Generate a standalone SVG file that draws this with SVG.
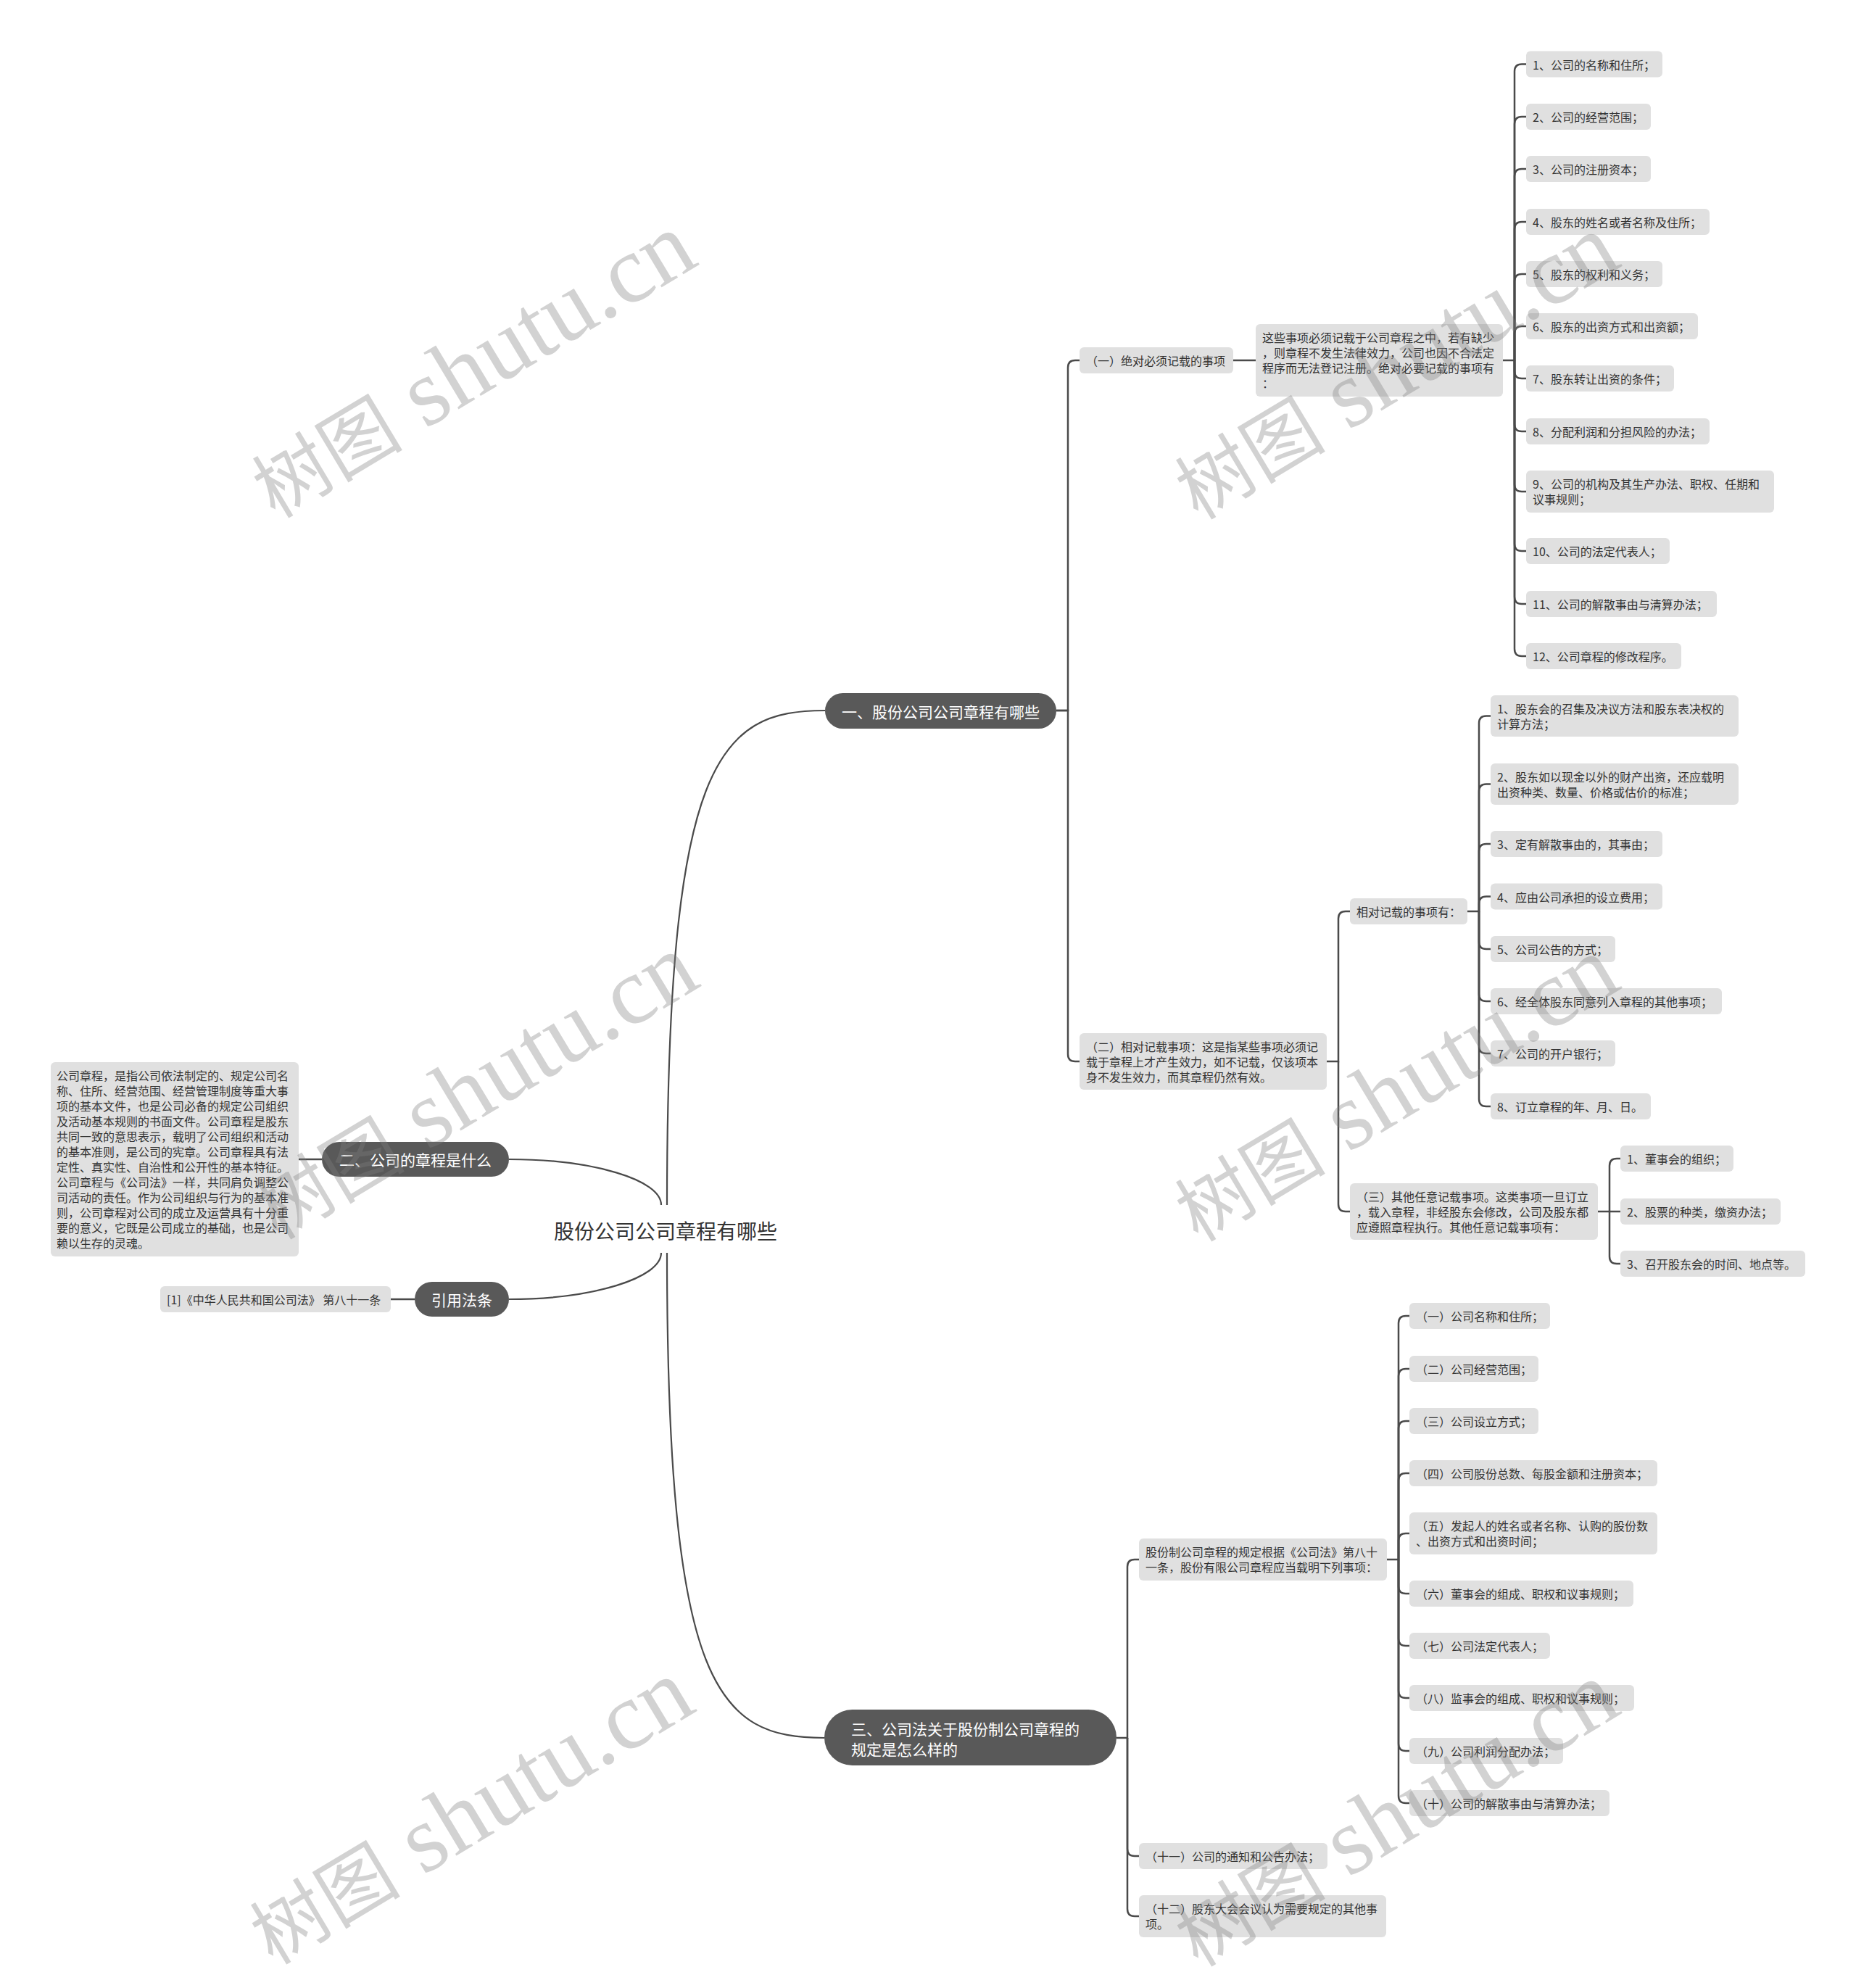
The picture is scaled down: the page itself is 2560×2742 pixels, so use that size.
<svg xmlns="http://www.w3.org/2000/svg" width="2560" height="2742" viewBox="0 0 2560 2742">
<style>
.bg{fill:#ffffff}
.box{fill:#e0e0e0}
.t{font-family:'Noto Sans CJK SC','Microsoft YaHei',sans-serif;font-size:16px;fill:#333333;dominant-baseline:central}
.br{fill:#595959}
.bt{font-family:'Noto Sans CJK SC','Microsoft YaHei',sans-serif;font-size:21px;fill:#ffffff;dominant-baseline:central}
.rt{font-family:'Noto Sans CJK SC','Microsoft YaHei',sans-serif;font-size:28px;fill:#333333;dominant-baseline:central}
.ln{fill:none;stroke:#4a4a4a;stroke-width:2.5}
.rl{fill:none;stroke:#4a4a4a;stroke-width:2.2}
.wm{font-family:'Liberation Serif','Noto Sans CJK SC',serif;font-size:104px;fill:#808080;opacity:0.35}
.wl{font-size:132px}
</style>
<rect class="bg" x="0" y="0" width="2560" height="2742"/>

<g id="connectors">
<path class="rl" d="M912 1662C912 1627 817 1599 702 1599"/>
<path class="rl" d="M912 1728C912 1763 817 1792 702 1792"/>
<path class="rl" d="M920 1662C920 1050 990 980 1138 980"/>
<path class="rl" d="M920 1728C920 2330 990 2397 1137 2397"/>
<path class="ln" d="M412 1599H444"/>
<path class="ln" d="M539 1792H572"/>
<path class="ln" d="M1457 980H1473V507Q1473 497 1483 497H1489"/>
<path class="ln" d="M1457 980H1473V1454Q1473 1464 1483 1464H1489"/>
<path class="ln" d="M1701 497H1732"/>
<path class="ln" d="M2073 497H2089V98.5Q2089 88.5 2099 88.5H2105"/>
<path class="ln" d="M2089 497V171Q2089 161 2099 161H2105"/>
<path class="ln" d="M2089 497V243Q2089 233 2099 233H2105"/>
<path class="ln" d="M2089 497V316Q2089 306 2099 306H2105"/>
<path class="ln" d="M2089 497V388Q2089 378 2099 378H2105"/>
<path class="ln" d="M2089 497V460Q2089 450 2099 450H2105"/>
<path class="ln" d="M2089 497V512Q2089 522 2099 522H2105"/>
<path class="ln" d="M2089 497V585Q2089 595 2099 595H2105"/>
<path class="ln" d="M2089 497V668Q2089 678 2099 678H2105"/>
<path class="ln" d="M2089 497V750Q2089 760 2099 760H2105"/>
<path class="ln" d="M2089 497V823Q2089 833 2099 833H2105"/>
<path class="ln" d="M2089 497V895Q2089 905 2099 905H2105"/>
<path class="ln" d="M1830 1464H1846V1267Q1846 1257 1856 1257H1862"/>
<path class="ln" d="M1846 1464V1661Q1846 1671 1856 1671H1862"/>
<path class="ln" d="M2024 1257H2040V997.5Q2040 987.5 2050 987.5H2056"/>
<path class="ln" d="M2040 1257V1091.5Q2040 1081.5 2050 1081.5H2056"/>
<path class="ln" d="M2040 1257V1174Q2040 1164 2050 1164H2056"/>
<path class="ln" d="M2040 1257V1246.5Q2040 1236.5 2050 1236.5H2056"/>
<path class="ln" d="M2040 1257V1299Q2040 1309 2050 1309H2056"/>
<path class="ln" d="M2040 1257V1371Q2040 1381 2050 1381H2056"/>
<path class="ln" d="M2040 1257V1443Q2040 1453 2050 1453H2056"/>
<path class="ln" d="M2040 1257V1516Q2040 1526 2050 1526H2056"/>
<path class="ln" d="M2204 1671H2235"/>
<path class="ln" d="M2220 1671V1608Q2220 1598 2230 1598H2235"/>
<path class="ln" d="M2220 1671V1733Q2220 1743 2230 1743H2235"/>
<path class="ln" d="M1540 2397H1555V2161Q1555 2151 1565 2151H1571"/>
<path class="ln" d="M1555 2397V2550Q1555 2560 1565 2560H1571"/>
<path class="ln" d="M1555 2397V2633Q1555 2643 1565 2643H1571"/>
<path class="ln" d="M1913 2151H1929V1825Q1929 1815 1939 1815H1944"/>
<path class="ln" d="M1929 2151V1898Q1929 1888 1939 1888H1944"/>
<path class="ln" d="M1929 2151V1970Q1929 1960 1939 1960H1944"/>
<path class="ln" d="M1929 2151V2042Q1929 2032 1939 2032H1944"/>
<path class="ln" d="M1929 2151V2125Q1929 2115 1939 2115H1944"/>
<path class="ln" d="M1929 2151V2188Q1929 2198 1939 2198H1944"/>
<path class="ln" d="M1929 2151V2260Q1929 2270 1939 2270H1944"/>
<path class="ln" d="M1929 2151V2332Q1929 2342 1939 2342H1944"/>
<path class="ln" d="M1929 2151V2405Q1929 2415 1939 2415H1944"/>
<path class="ln" d="M1929 2151V2477Q1929 2487 1939 2487H1944"/>
</g>

<g id="root"><text class="rt" x="918" y="1697" text-anchor="middle">股份公司公司章程有哪些</text></g>

<g id="b1"><rect class="br" x="1138" y="956" width="319" height="49" rx="24.5"/><text class="bt" x="1297.5" y="980.5" text-anchor="middle">一、股份公司公司章程有哪些</text></g>
<g id="b2"><rect class="br" x="444" y="1575" width="258" height="48" rx="24"/><text class="bt" x="573" y="1599" text-anchor="middle">二、公司的章程是什么</text></g>
<g id="b4"><rect class="br" x="572" y="1768" width="130" height="48" rx="24"/><text class="bt" x="637" y="1792" text-anchor="middle">引用法条</text></g>
<g id="b3"><rect class="br" x="1137" y="2358" width="403" height="77" rx="38.5"/><text class="bt" x="1174"><tspan x="1174" y="2384">三、公司法关于股份制公司章程的</tspan><tspan x="1174" y="2412">规定是怎么样的</tspan></text></g>

<g id="desc"><rect class="box" x="70" y="1465" width="342" height="268" rx="6"/><text class="t">
<tspan x="78" y="1483">公司章程，是指公司依法制定的、规定公司名</tspan>
<tspan x="78" y="1504">称、住所、经营范围、经营管理制度等重大事</tspan>
<tspan x="78" y="1525">项的基本文件，也是公司必备的规定公司组织</tspan>
<tspan x="78" y="1546">及活动基本规则的书面文件。公司章程是股东</tspan>
<tspan x="78" y="1567">共同一致的意思表示，载明了公司组织和活动</tspan>
<tspan x="78" y="1588">的基本准则，是公司的宪章。公司章程具有法</tspan>
<tspan x="78" y="1609">定性、真实性、自治性和公开性的基本特征。</tspan>
<tspan x="78" y="1630">公司章程与《公司法》一样，共同肩负调整公</tspan>
<tspan x="78" y="1651">司活动的责任。作为公司组织与行为的基本准</tspan>
<tspan x="78" y="1672">则，公司章程对公司的成立及运营具有十分重</tspan>
<tspan x="78" y="1693">要的意义，它既是公司成立的基础，也是公司</tspan>
<tspan x="78" y="1714">赖以生存的灵魂。</tspan></text></g>
<g id="cite"><rect class="box" x="221" y="1774" width="318" height="36" rx="6"/><text class="t" x="230" y="1792">[1]《中华人民共和国公司法》 第八十一条</text></g>

<g id="a1"><rect class="box" x="1489" y="479" width="212" height="36" rx="6"/><text class="t" x="1498" y="497">（一）绝对必须记载的事项</text></g>
<g id="a1a"><rect class="box" x="1732" y="447" width="341" height="100" rx="6"/><text class="t"><tspan x="1741" y="465">这些事项必须记载于公司章程之中，若有缺少</tspan><tspan x="1741" y="486">，则章程不发生法律效力，公司也因不合法定</tspan><tspan x="1741" y="507">程序而无法登记注册。绝对必要记载的事项有</tspan><tspan x="1741" y="528">：</tspan></text></g>

<g id="i1"><rect class="box" x="2105" y="70.5" width="188" height="36" rx="6"/><text class="t" x="2114" y="88.5">1、公司的名称和住所；</text></g>
<g id="i2"><rect class="box" x="2105" y="143" width="172" height="36" rx="6"/><text class="t" x="2114" y="161">2、公司的经营范围；</text></g>
<g id="i3"><rect class="box" x="2105" y="215" width="172" height="36" rx="6"/><text class="t" x="2114" y="233">3、公司的注册资本；</text></g>
<g id="i4"><rect class="box" x="2105" y="288" width="253" height="36" rx="6"/><text class="t" x="2114" y="306">4、股东的姓名或者名称及住所；</text></g>
<g id="i5"><rect class="box" x="2105" y="360" width="188" height="36" rx="6"/><text class="t" x="2114" y="378">5、股东的权利和义务；</text></g>
<g id="i6"><rect class="box" x="2105" y="432" width="237" height="36" rx="6"/><text class="t" x="2114" y="450">6、股东的出资方式和出资额；</text></g>
<g id="i7"><rect class="box" x="2105" y="504" width="204" height="36" rx="6"/><text class="t" x="2114" y="522">7、股东转让出资的条件；</text></g>
<g id="i8"><rect class="box" x="2105" y="577" width="253" height="36" rx="6"/><text class="t" x="2114" y="595">8、分配利润和分担风险的办法；</text></g>
<g id="i9"><rect class="box" x="2105" y="649" width="342" height="58" rx="6"/><text class="t"><tspan x="2114" y="667">9、公司的机构及其生产办法、职权、任期和</tspan><tspan x="2114" y="688">议事规则；</tspan></text></g>
<g id="i10"><rect class="box" x="2105" y="742" width="198" height="36" rx="6"/><text class="t" x="2114" y="760">10、公司的法定代表人；</text></g>
<g id="i11"><rect class="box" x="2105" y="815" width="263" height="36" rx="6"/><text class="t" x="2114" y="833">11、公司的解散事由与清算办法；</text></g>
<g id="i12"><rect class="box" x="2105" y="887" width="214" height="36" rx="6"/><text class="t" x="2114" y="905">12、公司章程的修改程序。</text></g>

<g id="a2"><rect class="box" x="1489" y="1425" width="341" height="78" rx="6"/><text class="t"><tspan x="1498" y="1443">（二）相对记载事项：这是指某些事项必须记</tspan><tspan x="1498" y="1464">载于章程上才产生效力，如不记载，仅该项本</tspan><tspan x="1498" y="1485">身不发生效力，而其章程仍然有效。</tspan></text></g>
<g id="b1n"><rect class="box" x="1862" y="1239" width="162" height="36" rx="6"/><text class="t" x="1871" y="1257">相对记载的事项有：</text></g>
<g id="r1"><rect class="box" x="2056" y="959" width="342" height="57" rx="6"/><text class="t"><tspan x="2065" y="977">1、股东会的召集及决议方法和股东表决权的</tspan><tspan x="2065" y="998">计算方法；</tspan></text></g>
<g id="r2"><rect class="box" x="2056" y="1053" width="342" height="57" rx="6"/><text class="t"><tspan x="2065" y="1071">2、股东如以现金以外的财产出资，还应载明</tspan><tspan x="2065" y="1092">出资种类、数量、价格或估价的标准；</tspan></text></g>
<g id="r3"><rect class="box" x="2056" y="1146" width="237" height="36" rx="6"/><text class="t" x="2065" y="1164">3、定有解散事由的，其事由；</text></g>
<g id="r4"><rect class="box" x="2056" y="1218.5" width="237" height="36" rx="6"/><text class="t" x="2065" y="1236.5">4、应由公司承担的设立费用；</text></g>
<g id="r5"><rect class="box" x="2056" y="1291" width="172" height="36" rx="6"/><text class="t" x="2065" y="1309">5、公司公告的方式；</text></g>
<g id="r6"><rect class="box" x="2056" y="1363" width="319" height="36" rx="6"/><text class="t" x="2065" y="1381">6、经全体股东同意列入章程的其他事项；</text></g>
<g id="r7"><rect class="box" x="2056" y="1435" width="172" height="36" rx="6"/><text class="t" x="2065" y="1453">7、公司的开户银行；</text></g>
<g id="r8"><rect class="box" x="2056" y="1508" width="221" height="36" rx="6"/><text class="t" x="2065" y="1526">8、订立章程的年、月、日。</text></g>

<g id="b2n"><rect class="box" x="1862" y="1632" width="342" height="78" rx="6"/><text class="t"><tspan x="1871" y="1650">（三）其他任意记载事项。这类事项一旦订立</tspan><tspan x="1871" y="1671">，载入章程，非经股东会修改，公司及股东都</tspan><tspan x="1871" y="1692">应遵照章程执行。其他任意记载事项有：</tspan></text></g>
<g id="c1"><rect class="box" x="2235" y="1580" width="156" height="36" rx="6"/><text class="t" x="2244" y="1598">1、董事会的组织；</text></g>
<g id="c2"><rect class="box" x="2235" y="1653" width="221" height="36" rx="6"/><text class="t" x="2244" y="1671">2、股票的种类，缴资办法；</text></g>
<g id="c3"><rect class="box" x="2235" y="1725" width="255" height="36" rx="6"/><text class="t" x="2244" y="1743">3、召开股东会的时间、地点等。</text></g>

<g id="d1"><rect class="box" x="1571" y="2122" width="342" height="58" rx="6"/><text class="t"><tspan x="1580" y="2140">股份制公司章程的规定根据《公司法》第八十</tspan><tspan x="1580" y="2161">一条，股份有限公司章程应当载明下列事项：</tspan></text></g>
<g id="e1"><rect class="box" x="1944" y="1797" width="194" height="36" rx="6"/><text class="t" x="1953" y="1815">（一）公司名称和住所；</text></g>
<g id="e2"><rect class="box" x="1944" y="1870" width="178" height="36" rx="6"/><text class="t" x="1953" y="1888">（二）公司经营范围；</text></g>
<g id="e3"><rect class="box" x="1944" y="1942" width="178" height="36" rx="6"/><text class="t" x="1953" y="1960">（三）公司设立方式；</text></g>
<g id="e4"><rect class="box" x="1944" y="2014" width="342" height="36" rx="6"/><text class="t" x="1953" y="2032">（四）公司股份总数、每股金额和注册资本；</text></g>
<g id="e5"><rect class="box" x="1944" y="2086" width="342" height="58" rx="6"/><text class="t"><tspan x="1953" y="2104">（五）发起人的姓名或者名称、认购的股份数</tspan><tspan x="1953" y="2125">、出资方式和出资时间；</tspan></text></g>
<g id="e6"><rect class="box" x="1944" y="2180" width="309" height="36" rx="6"/><text class="t" x="1953" y="2198">（六）董事会的组成、职权和议事规则；</text></g>
<g id="e7"><rect class="box" x="1944" y="2252" width="194" height="36" rx="6"/><text class="t" x="1953" y="2270">（七）公司法定代表人；</text></g>
<g id="e8"><rect class="box" x="1944" y="2324" width="310" height="36" rx="6"/><text class="t" x="1953" y="2342">（八）监事会的组成、职权和议事规则；</text></g>
<g id="e9"><rect class="box" x="1944" y="2397" width="212" height="36" rx="6"/><text class="t" x="1953" y="2415">（九）公司利润分配办法；</text></g>
<g id="e10"><rect class="box" x="1944" y="2469" width="276" height="36" rx="6"/><text class="t" x="1953" y="2487">（十）公司的解散事由与清算办法；</text></g>
<g id="d2"><rect class="box" x="1571" y="2542" width="260" height="36" rx="6"/><text class="t" x="1580" y="2560">（十一）公司的通知和公告办法；</text></g>
<g id="d3"><rect class="box" x="1571" y="2614" width="341" height="58" rx="6"/><text class="t"><tspan x="1580" y="2632">（十二）股东大会会议认为需要规定的其他事</tspan><tspan x="1580" y="2653">项。</tspan></text></g>

<g id="watermarks">
<text class="wm" x="655" y="545" text-anchor="middle" transform="rotate(-31 655 510)">树图<tspan class="wl"> shutu.cn</tspan></text>
<text class="wm" x="1928" y="547" text-anchor="middle" transform="rotate(-31 1928 512)">树图<tspan class="wl"> shutu.cn</tspan></text>
<text class="wm" x="658" y="1540" text-anchor="middle" transform="rotate(-31 658 1505)">树图<tspan class="wl"> shutu.cn</tspan></text>
<text class="wm" x="1928" y="1543" text-anchor="middle" transform="rotate(-31 1928 1508)">树图<tspan class="wl"> shutu.cn</tspan></text>
<text class="wm" x="652" y="2540" text-anchor="middle" transform="rotate(-31 652 2505)">树图<tspan class="wl"> shutu.cn</tspan></text>
<text class="wm" x="1928" y="2543" text-anchor="middle" transform="rotate(-31 1928 2508)">树图<tspan class="wl"> shutu.cn</tspan></text>
</g>
</svg>
